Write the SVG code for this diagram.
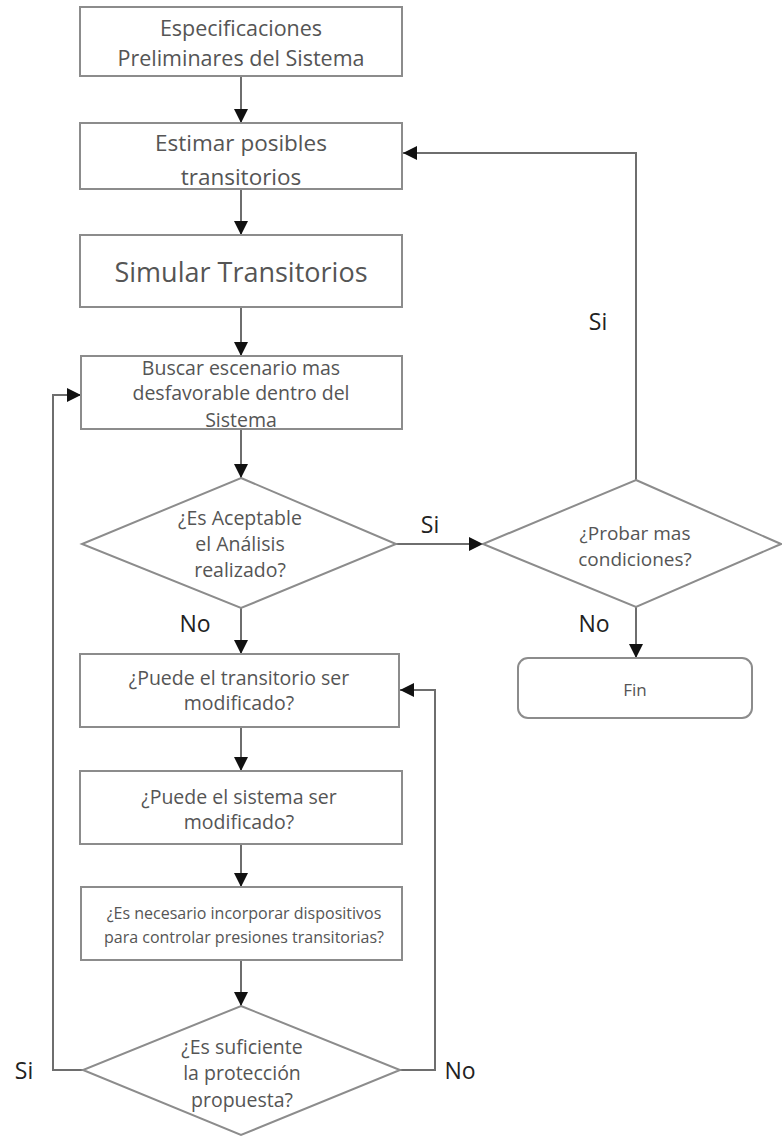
<svg xmlns="http://www.w3.org/2000/svg" width="782" height="1137" viewBox="0 0 782 1137">
<style>
.box{fill:#fff;stroke:#8c8c8c;stroke-width:2}
.t{font-family:"Open Sans","Liberation Sans",sans-serif;fill:#555;text-anchor:middle}
.lbl{font-family:"Open Sans","Liberation Sans",sans-serif;fill:#222;font-size:23px;text-anchor:middle}
.c{fill:none;stroke:#6e6e6e;stroke-width:2}
</style>
<defs>
<marker id="a" viewBox="0 0 12 12" refX="12" refY="6" markerWidth="14" markerHeight="14" markerUnits="userSpaceOnUse" orient="auto">
<path d="M0,0 L12,6 L0,12 z" fill="#111"/>
</marker>
</defs>
<rect width="782" height="1137" fill="#fff"/>
<g id="connectors">
<path class="c" d="M241,76 V123" marker-end="url(#a)"/>
<path class="c" d="M241,189 V235" marker-end="url(#a)"/>
<path class="c" d="M241,307 V356" marker-end="url(#a)"/>
<path class="c" d="M241,429 V478" marker-end="url(#a)"/>
<path class="c" d="M396,544 H483" marker-end="url(#a)"/>
<path class="c" d="M636,480 V153 H403" marker-end="url(#a)"/>
<path class="c" d="M636,607 V658" marker-end="url(#a)"/>
<path class="c" d="M241,608 V654" marker-end="url(#a)"/>
<path class="c" d="M241,727 V771" marker-end="url(#a)"/>
<path class="c" d="M241,844 V887" marker-end="url(#a)"/>
<path class="c" d="M241,960 V1006" marker-end="url(#a)"/>
<path class="c" d="M83,1070 H53 V395 H81" marker-end="url(#a)"/>
<path class="c" d="M400,1070 H435 V690 H400" marker-end="url(#a)"/>
<text class="lbl" x="598" y="330">Si</text>
<text class="lbl" x="430" y="533">Si</text>
<text class="lbl" x="195" y="632">No</text>
<text class="lbl" x="594" y="632">No</text>
<text class="lbl" x="24" y="1079">Si</text>
<text class="lbl" x="460" y="1079">No</text>
</g>
<g id="n1">
<rect class="box" x="80" y="7" width="322" height="69"/>
<text class="t" font-size="21.5" x="241" y="36">Especificaciones</text>
<text class="t" font-size="21.5" x="241" y="66">Preliminares del Sistema</text>
</g>
<g id="n2">
<rect class="box" x="80" y="123" width="322" height="66"/>
<text class="t" font-size="22.5" x="241" y="151">Estimar posibles</text>
<text class="t" font-size="22.5" x="241" y="185">transitorios</text>
</g>
<g id="n3">
<rect class="box" x="80" y="235" width="322" height="72"/>
<text class="t" font-size="27" x="241" y="282" fill="#333">Simular Transitorios</text>
</g>
<g id="n4">
<rect class="box" x="81" y="356" width="321" height="73"/>
<text class="t" font-size="19.5" x="241" y="375">Buscar escenario mas</text>
<text class="t" font-size="19.5" x="241" y="400">desfavorable dentro del</text>
<text class="t" font-size="19.5" x="241" y="427">Sistema</text>
</g>
<g id="d1">
<polygon class="box" points="241,478 396,544 241,608 82,544"/>
<text class="t" font-size="19.5" x="240" y="525">¿Es Aceptable</text>
<text class="t" font-size="19.5" x="240" y="551">el Análisis</text>
<text class="t" font-size="19.5" x="240" y="577">realizado?</text>
</g>
<g id="d2">
<polygon class="box" points="636,480 781,544 636,607 483,544"/>
<text class="t" font-size="19" x="635" y="540">¿Probar mas</text>
<text class="t" font-size="19" x="635" y="566">condiciones?</text>
</g>
<g id="fin">
<rect class="box" x="518" y="658" width="234" height="60" rx="10"/>
<text class="t" font-size="17" x="635" y="696">Fin</text>
</g>
<g id="n5">
<rect class="box" x="80" y="654" width="319" height="73"/>
<text class="t" font-size="19.5" x="239" y="685">¿Puede el transitorio ser</text>
<text class="t" font-size="19.5" x="239" y="710">modificado?</text>
</g>
<g id="n6">
<rect class="box" x="80" y="771" width="322" height="73"/>
<text class="t" font-size="19.5" x="239" y="804">¿Puede el sistema ser</text>
<text class="t" font-size="19.5" x="239" y="829">modificado?</text>
</g>
<g id="n7">
<rect class="box" x="81" y="887" width="321" height="73"/>
<text class="t" font-size="16" x="244" y="919" fill="#222">¿Es necesario incorporar dispositivos</text>
<text class="t" font-size="16" x="244" y="943" fill="#222">para controlar presiones transitorias?</text>
</g>
<g id="d3">
<polygon class="box" points="241,1006 400,1070 241,1135 83,1070"/>
<text class="t" font-size="19.5" x="242" y="1054">¿Es suficiente</text>
<text class="t" font-size="19.5" x="242" y="1080">la protección</text>
<text class="t" font-size="19.5" x="242" y="1107">propuesta?</text>
</g>
</svg>
